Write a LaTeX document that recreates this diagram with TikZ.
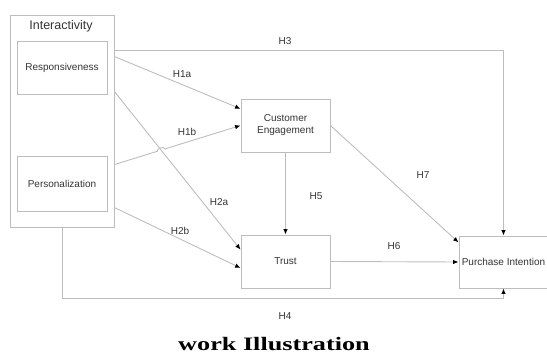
\documentclass[tikz,border=0pt]{standalone}
\usepackage{fontspec}
\setmainfont{Liberation Serif}
\setsansfont{Liberation Sans}
\usetikzlibrary{arrows.meta}
\usetikzlibrary{calc}
\usetikzlibrary{intersections}
\definecolor{lgray}{gray}{0.74}
\definecolor{tgray}{gray}{0.2}
\tikzset{l/.style={font=\sffamily\fontsize{10}{12}\selectfont,text=tgray}}
\tikzset{box/.style={draw=lgray,line width=0.9pt,l,inner sep=0pt,align=center}}
\tikzset{ln/.style={draw=lgray,line width=0.9pt,-{Latex[black,length=5.5pt,width=4.5pt]}}}

\begin{document}
\begin{tikzpicture}[x=1pt,y=-1pt]
  \useasboundingbox (0,0) rectangle (547,356);
  % constructs
  \node[box,minimum width=104pt,minimum height=212pt] (inter) at (62,121) {};
  \node[l,font=\sffamily\fontsize{12.5}{12.5}\selectfont] (title) at (61,26) {Interactivity};
  \node[box,minimum width=90pt,minimum height=53pt] (resp) at (62,67.5) {Responsiveness};
  \node[box,minimum width=90pt,minimum height=55pt] (pers) at (62,183.5) {Personalization};
  \node[box,minimum width=89pt,minimum height=53pt] (ce) at (285.5,125.5) {Customer\\Engagement};
  \node[box,minimum width=89pt,minimum height=53pt] (trust) at (285.5,261.5) {Trust};
  \node[box,minimum width=89pt,minimum height=52pt] (pi) at (503.5,262) {Purchase Intention};

  % where the paths leave the interactivity box
  \coordinate (s3) at ($(inter.north east)+(0,36)$);
  \coordinate (s1a) at ($(inter.north east)+(0,42)$);
  \coordinate (s2a) at ($(inter.north east)+(0,77)$);
  \coordinate (s1b) at ($(inter.north east)+(0,150)$);
  \coordinate (s2b) at ($(inter.north east)+(0,193)$);
  \coordinate (t1a) at ($(ce.north west)!0.19!(ce.south west)$);
  \coordinate (t2a) at ($(trust.north west)!0.28!(trust.south west)$);
  \coordinate (t2b) at ($(trust.north west)!0.62!(trust.south west)$);
  \coordinate (t7) at ($(pi.north west)!0.13!(pi.south west)$);

  % paths
  \draw[ln] (s3) -| (pi.north);
  \draw[ln] (s1a) -- (t1a);
  \draw[ln,name path=h2a] (s2a) -- (t2a);
  \path[name path=h1b] (s1b) -- (ce.west);
  \path[name intersections={of=h2a and h1b,by=hop}];
  \draw[ln] (s1b) -- ($(hop)!4pt!(s1b)$) to[bend left=90] ($(hop)!4pt!(ce.west)$) -- (ce.west);
  \draw[ln] (s2b) -- (t2b);
  \draw[ln] (inter.south) -- ++(0,71) -| (pi.south);
  \draw[ln] (ce.south) -- (trust.north);
  \draw[ln] (ce.east) -- (t7);
  \draw[ln] (trust.east) -- (pi.west);

  % hypothesis labels
  \node[l] (h3) at (285,41) {H3};
  \node[l] (h1a) at (182,74) {H1a};
  \node[l] (h1b) at (187,132) {H1b};
  \node[l] (h2a) at (219,202) {H2a};
  \node[l] (h2b) at (180,231) {H2b};
  \node[l] (h5) at (316,196) {H5};
  \node[l] (h7) at (423,175) {H7};
  \node[l] (h6) at (394,246) {H6};
  \node[l] (h4) at (285,316) {H4};

  \node[font=\bfseries\fontsize{19}{19}\selectfont,xscale=1.38] (cap) at (274,344.5) {work Illustration};
\end{tikzpicture}
\end{document}
